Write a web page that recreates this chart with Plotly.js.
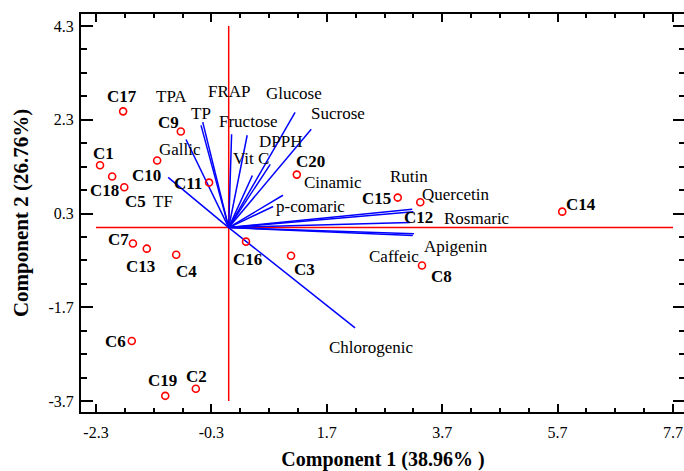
<!DOCTYPE html>
<html><head><meta charset="utf-8">
<script src="https://cdn.plot.ly/plotly-3.0.1.min.js"></script>
<style>html,body{margin:0;padding:0;overflow:hidden;background:#fff}</style>
</head><body><div id="chart" style="width:686px;height:471px"></div>
<script>
// ---- data ----
const sampleNames = ["C1","C2","C3","C4","C5","C6","C7","C8","C9","C10","C11","C12","C13","C14","C15","C16","C17","C18","C19","C20"];
const sampleX = [-2.23,-0.57,1.08,-0.91,-1.81,-1.68,-1.66,3.35,-0.83,-1.24,-0.34,3.32,-1.42,5.78,2.93,0.30,-1.83,-2.02,-1.10,1.18];
const sampleY = [1.33,-3.44,-0.60,-0.58,0.86,-2.42,-0.34,-0.81,2.05,1.43,0.96,0.54,-0.45,0.34,0.64,-0.30,2.48,1.09,-3.59,1.13];

const varNames = ["TPA","TP","Gallic","TF","FRAP","Fructose","Vit C","DPPH","Glucose","Sucrose","Cinamic","p-comaric","Rutin","Quercetin","Rosmaric","Apigenin","Caffeic","Chlorogenic"];
const varX = [-0.45,-0.48,-0.74,-1.05,0.05,0.32,0.41,0.72,1.15,1.43,0.94,0.77,3.18,3.20,3.14,3.21,3.19,2.19];
const varY = [2.25,2.18,1.88,1.07,1.99,1.97,1.11,1.35,2.46,2.10,0.69,0.45,0.39,0.34,0.11,-0.13,-0.17,-2.14];

const xTickVals = [-2.3,-0.3,1.7,3.7,5.7,7.7];
const xTickText = ["-2.3","-0.3","1.7","3.7","5.7","7.7"];
const yTickVals = [-3.7,-1.7,0.3,2.3,4.3];
const yTickText = ["-3.7","-1.7","0.3","2.3","4.3"];

// ---- label offsets (px) ----
const sampleOffsets = {
  C1:[3,12],C2:[1,12],C3:[13,-14],C4:[10,-17],C5:[11,-14],C6:[-16,0],C7:[-14,4],C8:[19,-11],
  C9:[-12,9],C10:[-11,-15],C11:[-21,-1],C12:[-2,-15],C13:[-6,-18],C14:[19,7],C15:[-21,-1],
  C16:[1,-18],C17:[-1,15],C18:[-8,-14],C19:[-3,15],C20:[14,13]
};
const varOffsets = {
  "TPA":[-31,26],"TP":[0,12],"Gallic":[-6,-10],"TF":[-5,-24],"FRAP":[-2,43],"Fructose":[1,14],
  "Vit C":[-1,17],"DPPH":[10,23],"Glucose":[-1,19],"Sucrose":[27,16],"Cinamic":[50,13],
  "p-comaric":[37,0],"Rutin":[-3,33],"Quercetin":[43,17],"Rosmaric":[67,4],"Apigenin":[42,-13],
  "Caffeic":[-19,-21],"Chlorogenic":[16,-20]
};

const FONT = "Liberation Serif, Times New Roman, serif";

// vectors
const vx = [], vy = [];
varX.forEach((v,i)=>{ vx.push(0, v, null); vy.push(0, varY[i], null); });

const traces = [
  {x:[xTickVals[0], xTickVals[xTickVals.length-1]], y:[0,0], mode:'lines', line:{color:'#ff0000', width:1.5}, hoverinfo:'skip'},
  {x:[0,0], y:[yTickVals[0], yTickVals[yTickVals.length-1]], mode:'lines', line:{color:'#ff0000', width:1.5}, hoverinfo:'skip'},
  {x:vx, y:vy, mode:'lines', line:{color:'#0000ff', width:1.5}, hoverinfo:'skip'},
  {x:sampleX, y:sampleY, mode:'markers', marker:{symbol:'circle-open', size:7, color:'#ff0000', line:{width:1.6, color:'#ff0000'}}, hoverinfo:'skip'}
];

const annotations = [];
sampleNames.forEach((n,i)=>{
  const o = sampleOffsets[n];
  annotations.push({x:sampleX[i], y:sampleY[i], text:'<b>'+n+'</b>', showarrow:false, xshift:o[0], yshift:o[1],
    xanchor:'center', yanchor:'middle', font:{family:FONT, size:17, color:'#000'}});
});
varNames.forEach((n,i)=>{
  const o = varOffsets[n];
  annotations.push({x:varX[i], y:varY[i], text:n, showarrow:false, xshift:o[0], yshift:o[1],
    xanchor:'center', yanchor:'middle', font:{family:FONT, size:17, color:'#000'}});
});

const layout = {
  width:686, height:471,
  margin:{l:81, r:1, t:14, b:59},
  paper_bgcolor:'#fff', plot_bgcolor:'#fff',
  showlegend:false,
  font:{family:FONT, color:'#000'},
  xaxis:{
    range:[-2.56,7.908], tickmode:'array', tickvals:xTickVals, ticktext:xTickText,
    ticks:'inside', ticklen:8, tickwidth:2, tickcolor:'#000', ticklabelstandoff:5,
    minor:{tickmode:'linear', tick0:-2.3, dtick:0.5, ticks:'inside', ticklen:4, tickwidth:2, tickcolor:'#000'},
    showline:true, linewidth:2, linecolor:'#000', mirror:'allticks',
    showgrid:false, zeroline:false,
    tickfont:{family:FONT, size:16, color:'#000'},
    title:{text:'<b>Component 1 (38.96% )</b>', font:{family:FONT, size:20, color:'#000'}, standoff:14}
  },
  yaxis:{
    range:[-3.935,4.557], tickmode:'array', tickvals:yTickVals, ticktext:yTickText,
    ticks:'inside', ticklen:12, tickwidth:2, tickcolor:'#000', ticklabelstandoff:2,
    minor:{tickmode:'linear', tick0:-3.7, dtick:0.5, ticks:'inside', ticklen:6, tickwidth:2, tickcolor:'#000'},
    showline:true, linewidth:2, linecolor:'#000', mirror:'allticks',
    showgrid:false, zeroline:false,
    tickfont:{family:FONT, size:16, color:'#000'},
    title:{text:'<b>Component 2 (26.76%)</b>', font:{family:FONT, size:21, color:'#000'}, standoff:14}
  },
  annotations:annotations
};

Plotly.newPlot('chart', traces, layout, {staticPlot:true, displayModeBar:false});
</script></body></html>
